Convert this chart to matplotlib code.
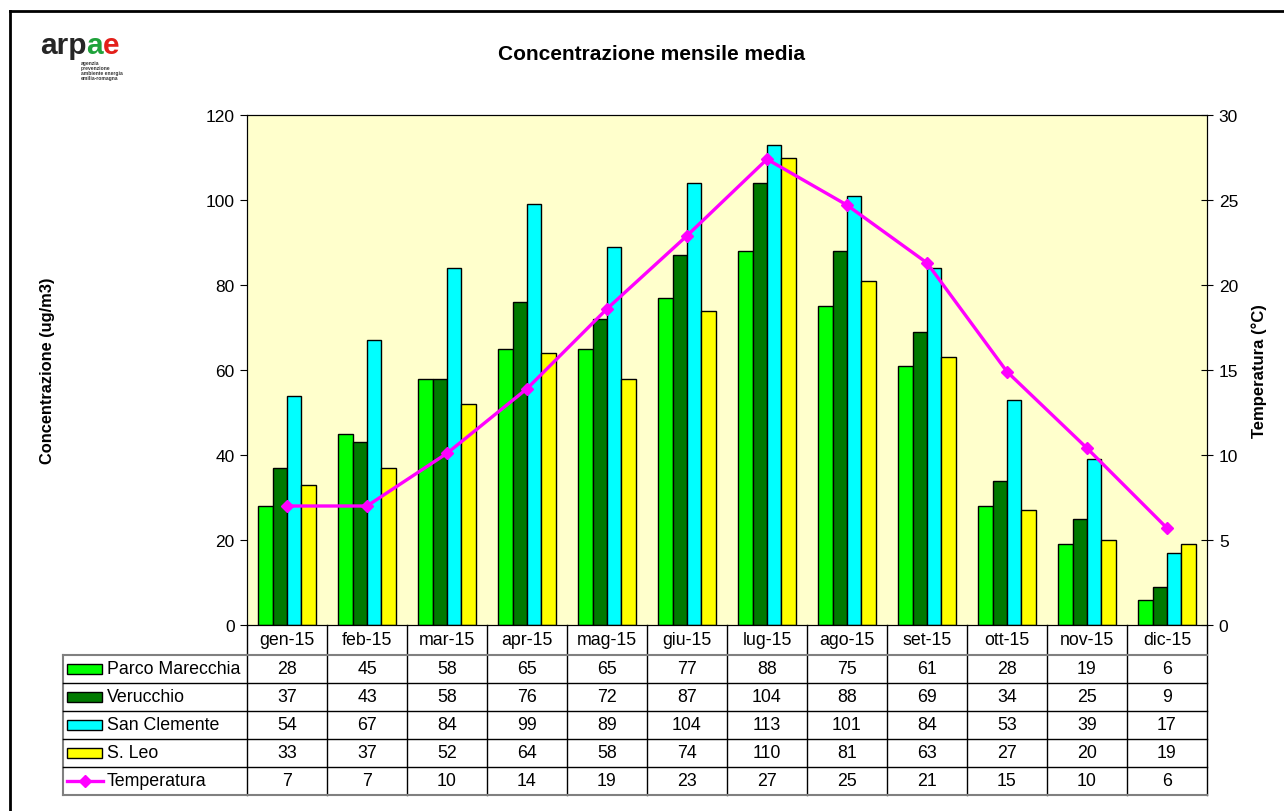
import matplotlib.pyplot as plt
from matplotlib.lines import Line2D
from matplotlib.patches import Rectangle
from matplotlib.transforms import blended_transform_factory
import numpy as np

plt.rcParams['font.family'] = ['Liberation Sans', 'DejaVu Sans']

months = ["gen-15", "feb-15", "mar-15", "apr-15", "mag-15", "giu-15",
          "lug-15", "ago-15", "set-15", "ott-15", "nov-15", "dic-15"]
parco_marecchia = [28, 45, 58, 65, 65, 77, 88, 75, 61, 28, 19, 6]
verucchio = [37, 43, 58, 76, 72, 87, 104, 88, 69, 34, 25, 9]
san_clemente = [54, 67, 84, 99, 89, 104, 113, 101, 84, 53, 39, 17]
s_leo = [33, 37, 52, 64, 58, 74, 110, 81, 63, 27, 20, 19]
temperatura = [7.0, 7.0, 10.1, 13.9, 18.6, 22.9, 27.4, 24.7, 21.3, 14.9, 10.4, 5.7]

series = [("Parco Marecchia", parco_marecchia, "#00ff00"),
          ("Verucchio", verucchio, "#007a00"),
          ("San Clemente", san_clemente, "#00ffff"),
          ("S. Leo", s_leo, "#ffff00")]

fig = plt.figure(figsize=(12.84, 8.12), dpi=100)
W, H = 1284, 812
ax = fig.add_axes([247 / W, 1 - 626 / H, 960 / W, 510 / H])
ax.set_facecolor("#ffffcc")

x = np.arange(len(months))
bw = 0.18
for k, (name, vals, col) in enumerate(series):
    ax.bar(x + (k - 1.5) * bw, vals, bw, color=col, edgecolor="black", linewidth=1.0, zorder=2)

ax.set_xlim(-0.5, len(months) - 0.5)
ax.set_ylim(0, 120)
ax.set_yticks(range(0, 121, 20))
ax.set_xticks([])
ax.tick_params(axis="y", direction="out", length=5, labelsize=12.5, pad=4)
for s in ax.spines.values():
    s.set_color("black")
ax.set_ylabel("Concentrazione (ug/m3)", fontsize=11.8, fontweight="bold", labelpad=0)
ax.yaxis.set_label_coords(-0.2, 0.5)

ax2 = ax.twinx()
ax2.plot(x, temperatura, color="#ff00ff", lw=2.4, marker="D", markersize=6.5, zorder=3)
ax2.set_ylim(0, 30)
ax2.set_yticks(range(0, 31, 5))
ax2.tick_params(axis="y", direction="inout", length=9, labelsize=12.5, pad=4)
ax2.set_ylabel("Temperatura (°C)", fontsize=12, fontweight="bold")
ax2.yaxis.set_label_coords(1.046, 0.5)

# data table under the chart
tr = blended_transform_factory(ax.transData, ax.transAxes)
hh = 30 / 510
rh = 28 / 510
left_x = -0.5 - 184 / 80
nrows = 5
bottom = -hh - nrows * rh

def hline(x0, x1, y, color="black", lw=1.0):
    ax.add_line(Line2D([x0, x1], [y, y], transform=tr, color=color, lw=lw, clip_on=False))

def vline(xx, y0, y1, color="black", lw=1.0):
    ax.add_line(Line2D([xx, xx], [y0, y1], transform=tr, color=color, lw=lw, clip_on=False))

for i in range(len(months) + 1):
    vline(i - 0.5, 0, bottom)
vline(left_x, -hh, bottom, color="#808080", lw=1.5)
hline(-0.5, len(months) - 0.5, -hh, color="#808080", lw=1.5)
hline(left_x, -0.5, -hh, color="#808080", lw=1.5)
for r in range(1, nrows + 1):
    hline(left_x, len(months) - 0.5, -hh - r * rh, color="#808080" if r == nrows else "black",
          lw=1.5 if r == nrows else 1.0)

for i, m in enumerate(months):
    ax.text(i, -hh / 2, m, transform=tr, ha="center", va="center", fontsize=12.8)

rows = [(name, vals, col) for name, vals, col in series] + [("Temperatura", temperatura, "#ff00ff")]
for r, (name, vals, col) in enumerate(rows):
    yc = -hh - (r + 0.5) * rh
    for i, v in enumerate(vals):
        ax.text(i, yc, f"{v:.0f}", transform=tr, ha="center", va="center", fontsize=12.8)
    sx = left_x + 4 / 80
    if r < 4:
        ax.add_patch(Rectangle((sx, yc - 5 / 510), 35 / 80, 10 / 510, transform=tr,
                               facecolor=col, edgecolor="black", lw=1.0, clip_on=False))
    else:
        ax.add_line(Line2D([sx, sx + 36 / 80], [yc, yc], transform=tr, color=col, lw=2.4,
                           clip_on=False))
        ax.add_line(Line2D([sx + 18 / 80], [yc], transform=tr, color=col, marker="D",
                           markersize=6.5, clip_on=False))
    ax.text(sx + 40 / 80, yc, name, transform=tr, ha="left", va="center", fontsize=12.8)

# title and logo
fig.text(652 / W, 1 - 55 / H, "Concentrazione mensile media", ha="center", va="center",
         fontsize=15, fontweight="bold")
t1 = fig.text(40 / W, 1 - 54 / H, "arp", fontsize=21.5, fontweight="bold", color="#262626",
              va="baseline")
t2 = ax.annotate("a", xy=(1, 0), xycoords=t1, fontsize=21.5, fontweight="bold",
                 color="#1fa23a", va="bottom", annotation_clip=False)
ax.annotate("e", xy=(1, 0), xycoords=t2, fontsize=21.5, fontweight="bold",
            color="#e3201b", va="bottom", annotation_clip=False)
fig.text(81 / W, 1 - 61 / H, "agenzia\nprevenzione\nambiente energia\nemilia-romagna",
         fontsize=3.6, fontweight="bold", color="#333333", va="top", linespacing=1.0)

# outer frame (top and left edges visible)
fig.add_artist(Line2D([10 / W, 1], [1 - 12 / H, 1 - 12 / H], transform=fig.transFigure,
                      color="black", lw=2))
fig.add_artist(Line2D([10 / W, 10 / W], [0, 1 - 12 / H], transform=fig.transFigure,
                      color="black", lw=2))

fig.savefig("out.png", dpi=100)
